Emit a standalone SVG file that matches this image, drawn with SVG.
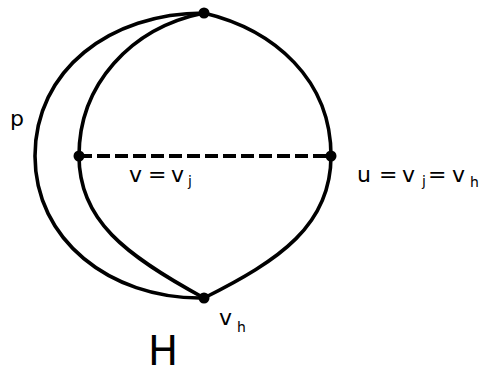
<svg xmlns="http://www.w3.org/2000/svg" width="485" height="375" viewBox="0 0 485 375">
<style>
.e{fill:none;stroke:#000;stroke-width:3.6;stroke-linecap:round}
.d{fill:none;stroke:#000;stroke-width:3.8;stroke-dasharray:13 5}
.n{fill:#000}
.t{font-family:"DejaVu Sans",sans-serif;font-size:22px;fill:#000}
.s{font-family:"DejaVu Sans",sans-serif;font-size:14px;fill:#000}
</style>
<rect width="485" height="375" fill="#fff"/>
<g id="edges">
<path class="e" d="M204,13 C110,13 35,70 35,156 C35,240 110,298 200,298"/>
<path class="e" d="M204,13 C130,28 79,85 79,156 C79,220 125,255 204,298"/>
<path class="e" d="M204,13 C275,30 331,80 331,156 C331,225 280,260 204,298"/>
<path class="d" d="M79,156 L331,156"/>
</g>
<g id="top"><circle class="n" cx="204" cy="13" r="5.5"/></g>
<g id="bottom"><circle class="n" cx="204" cy="298" r="5.5"/></g>
<g id="v"><circle class="n" cx="79" cy="156" r="5.5"/></g>
<g id="u"><circle class="n" cx="331" cy="156" r="5.5"/></g>
<g id="labels">
<text class="t" x="10" y="126">p</text>
<text class="t" x="129" y="182">v</text><text class="t" x="148" y="182">=</text><text class="t" x="171" y="182">v</text><text class="s" x="188" y="186">j</text>
<text class="t" x="357" y="182">u</text><text class="t" x="379" y="182">=</text><text class="t" x="402" y="182">v</text><text class="s" x="422" y="186">j</text><text class="t" x="428" y="182">=</text><text class="t" x="452" y="182">v</text><text class="s" x="470" y="187">h</text>
<text class="t" x="219" y="325">v</text><text class="s" x="237" y="332">h</text>
<text style="font-family:'DejaVu Sans',sans-serif;font-size:40px" x="148" y="365">H</text>
</g>
</svg>
